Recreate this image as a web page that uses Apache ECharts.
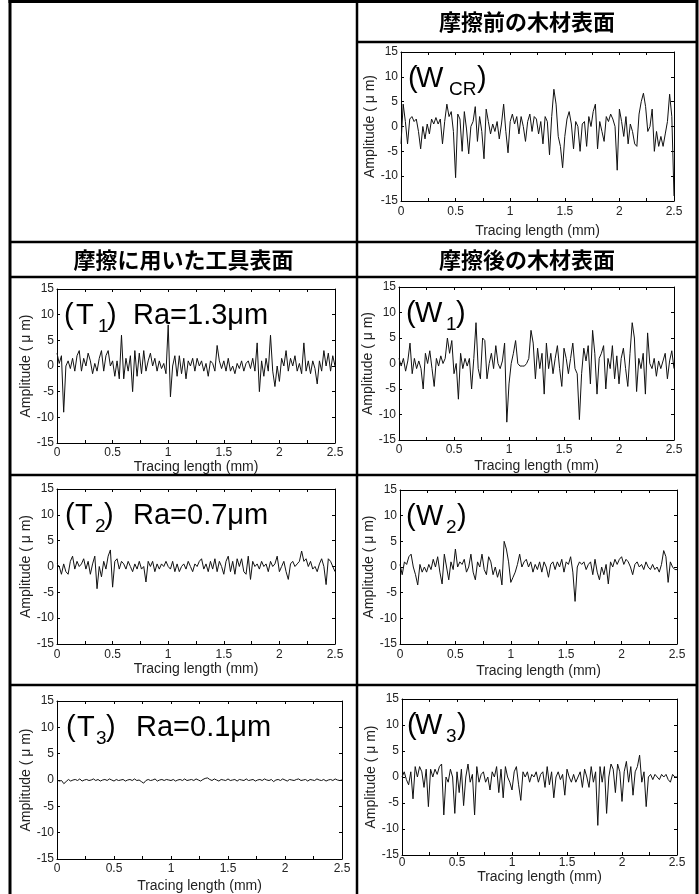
<!DOCTYPE html>
<html><head><meta charset="utf-8">
<script src="https://cdn.jsdelivr.net/npm/echarts@6/dist/echarts.min.js"></script>
<style>html,body{margin:0;padding:0;background:#fff}#c{width:699px;height:894px}</style>
</head><body><div id="c"></div>
<script>
// ---- data ----
const xTickLabels = ['0','0.5','1','1.5','2','2.5'];
const yMin = -15, yMax = 15, yStep = 5;
const xMin = 0, xMax = 2.5;
const headers = ['摩擦前の木材表面','摩擦に用いた工具表面','摩擦後の木材表面'];
const xName = 'Tracing length (mm)';
const yName = 'Amplitude ( μ m)';

const W_CR = [-3.5,4.5,1,-3.5,1.5,2,1,1.5,-1,-4.5,
0,-2.5,0.5,-1.5,1.5,0.5,1.8,0.5,1.5,-3.5,
1,4.5,2,3,-1,-10.3,2.5,1.5,-5,3,
-0.5,-5.5,0,1,4,-3,2,-1,-6.5,3.5,
1,-1.5,0.5,-1,1,-2.5,0.5,4.5,-1,-5.3,
1,2.5,0.5,2,-1.5,2,0,-3,1,2.5,
-1,2,1.5,-1.5,1,-3.5,2,1,-5.7,2,
7.5,4.5,-2,-4,-8.3,-2,1.5,3,0.5,-4.5,
1,0,-5,0.5,1,-4,2,0,3,4.5,
-4.5,1,-1,-3,2,1,2.5,1.5,0,-8.8,
3.5,1,-2,2,-3.5,0.5,-1,-3.5,-4,2.5,
5,6.7,4,-1,0,3.5,-5,-1,-4,-2,
-4,-1.5,1,6.5,2,-14];

const T1 = [2.5,0.5,2,-9,0,1,-0.5,1.5,-1,2,
3,-1,1.5,0,2.5,1,-1.5,0.5,-1,1.5,
3,-1,2,3,0,1,-2,1,-2.5,6,
-2.5,1.5,-1,2,-5,3,-2,2.5,-1.5,3,
-1,1,2.5,0,1.5,-1,1,-0.5,0.5,-1.5,
8,-6,0,2,-2,2,-1.5,1.5,-2.5,1,
0,1.5,-1,1.5,0,1,-1,0.5,-2,1,
0.5,-1,4,1,-0.5,1,-1,1.5,-1,0,
-1.5,0.5,-0.5,1,-1,0.5,1,-0.5,1.5,-1,
4.5,-5,1,-2,1.5,-1,6,-1,-4,0,
-3,1.5,0,3,-1,1.5,0,2,-1,0.5,
-1.5,4.5,-1,1,-1.5,1,-0.5,-3.5,1,-1,
3,0,2.5,-1,2,0];

const W1 = [1,-0.5,1,-1.5,0.5,4,-2,1,-1,0.5,
-1,-5,2,0,2.5,-1,-4.5,1,-0.5,1.5,
0,1,5,2,4.5,-2,0,-7,2,-1,
1,-0.5,1,-5,1,8,-1,-3,5,4.5,
-3,0,2,-1,3.5,0,-1,0.5,4,-11.5,
-4,0,2,4.5,0,-0.5,-0.5,-0.5,0,1,
6.5,4,-3,3,-1,2,-6,4,-1,2,
-2,1,3.5,-1,-4.5,3,1,-2,1,4,
-1,-2,-11,-2,3,0.5,3.5,-4,6.5,2,
-6,1,2,3.5,-5,1,-1,3.5,-3,1.5,
-4,1,3,-1,-4.5,2,8,5,-5.5,1,
-1,2,-6,6,0,-1,1,-2.5,0.5,-1,
0.5,2,-3,0.5,2.5,-1];

const T2 = [0.5,0,-1.5,0.5,-1,-1.5,1,2,-0.5,1,
0,0.5,1.5,-0.5,1,-1.5,0.5,2,-4.3,0,
-2,1,-0.5,2,3.2,-4,1,1.5,-0.5,1,
0.5,-0.5,1,0,-1,0.5,-0.5,1,-0.5,0,
-3,1,0,1,-1,0.5,-0.5,0.5,0,1,
0,-0.5,1,-1,0.5,-1,0,0.5,-0.5,1,
0,-1,0.5,0,1,1.5,-0.5,0.5,-1,1,
-0.5,1.5,-1,1,0,-1.5,1,2,-1,1,
-1.5,1.5,0,1.5,-1,-1.5,2,-2.5,1,0,
0.5,-0.5,1,0,0.5,-1,1,0,0.5,2,
-1,0,1,-1,-2.5,0.5,1,0,0.5,1,
3,1,1.5,0,1,-0.5,0,-1,0.5,1.5,
0,-3.5,1.5,1,0,-1];

const W2 = [0.5,-1.5,1,0.5,2,2.5,0,-1.5,-3.5,0.5,
-1,0,-1,0.5,-0.5,1.5,0,2,-1,-3.3,
2.5,0,-2.5,1,-0.5,3.5,0,1,0.5,1.5,
-1,0,2.5,-1,-2.5,1,0,2.5,-0.5,-1.5,
2,1,-1.5,0,-2,-0.5,-3.5,5,3.5,1,
-3,-2,-1,0.5,2.5,0,1,1.5,0,1,
-1,0.5,-0.5,1,-1,1,0,-2,0.5,1,
-0.5,1,0,1.5,-1,1,0.5,2,-1,-6.7,
0,1,0.5,1,-0.5,0.5,1,-1.5,1.5,-1,
-2.5,0,-1.5,0.5,-3.3,1,0,1.5,0.5,1.5,
2,0.5,1.5,1,0,-1.5,0.5,1,0,0.5,
-0.5,1,0,-0.5,0.5,-0.5,0,-1,0.5,3.2,
2,-3,1,0,-0.5,-0.5];

const T3 = [0,-0.2,-0.1,-0.7,-0.3,0.1,-0.2,0,0.1,-0.1,
0.2,-0.2,0,0.1,-0.1,0,0.2,-0.1,0.1,-0.2,
0,0.1,-0.1,0.2,0,-0.2,0.1,-0.1,0,0.1,
-0.2,0,0.1,-0.1,0.2,-0.1,0,-0.3,-0.6,-0.1,
0.1,-0.1,0,0.2,-0.2,0,0.1,-0.1,0.1,0,
-0.1,0.1,-0.2,0,0.1,-0.1,0.2,-0.1,0,0.1,
-0.1,0.2,0,-0.2,0.1,0.3,0.4,0.1,-0.1,0.2,
0,-0.2,0.1,0,-0.1,0.2,-0.1,0,0.1,-0.2,
0.1,0,-0.1,0.2,-0.1,0,0.1,-0.2,0,0.1,
-0.1,0.2,0,-0.1,0.1,-0.3,0,0.1,-0.1,0.2,
0,-0.2,0.1,0,-0.1,0.1,0.2,-0.1,0,0.1,
-0.2,0.1,0,-0.1,0.2,0,-0.1,0.1,-0.2,0,
0.1,-0.1,0.2,0,-0.1,0];

const W3 = [0,1,-0.5,-1.5,1,-4.2,2,0,2,1,
-2,1.5,-5.7,1.5,0,1.5,0.5,2,2.5,-7.3,
0,-1,1.5,0,-7,1,-3,1.5,-5.5,0,
2.5,-1,0.5,-7.3,2,-1,0.5,1,-1,0,
-2.5,1,0,2,-3,1.5,-4,2,0,-1,
-2.5,1,2,-1.5,-4.5,1,0,1,-1,0.5,
0,1,-1,0.5,1,-2,2,-1.5,1,-4,
0,1,-0.5,0.5,-3.5,1.5,0,-1,0.5,-1,
0,1,-2,1.5,0,-2,2,-1,1,-9.3,
2,-1,2,-7,0,2.5,1.5,-3,2.5,1,
-4.7,1,3,-1,2,-3.5,1,2,4.2,-1,
1,-5.7,0,0.5,-0.5,0.5,0,-0.5,0.5,0,
0.5,-0.5,-1,0.5,0,0];

const labelLetters = ['W','T','W','T','W','T','W'];
const labelSubs = ['CR','1','1','2','2','3','3'];
const raTexts = ['','Ra=1.3μm','','Ra=0.7μm','','Ra=0.1μm',''];

// ---- layout (positions / styles only) ----
const series7 = [W_CR, T1, W1, T2, W2, T3, W3];
const layout = [
  {l:401,t:52,r:674,b:201,gap:23,lm:5,ax:[7,15,48,76]},
  {l:57,t:289,r:335,b:443,gap:17,lm:4,ax:[7,19,41,50,76]},
  {l:399,t:287,r:674,b:440,gap:19,lm:4,ax:[7,16,47,57]},
  {l:57,t:489,r:335,b:644,gap:18,lm:5,ax:[8,18,38,47,76]},
  {l:400,t:490,r:677,b:644,gap:20,lm:5,ax:[6,16,46,57]},
  {l:57,t:701,r:342,b:860,gap:20,lm:4,ax:[9,20,39,49,79]},
  {l:402,t:699,r:677,b:855,gap:10,lm:2,ax:[5,13,44,55]}
];

const FONT = 'Liberation Sans, Arial, sans-serif';
const AFONT = 'Liberation Sans, Arial, sans-serif';
const axisCol = '#000', txtCol = '#222';

const grids = [], xAxes = [], yAxes = [], series = [], gfx = [];
layout.forEach((p, i) => {
  grids.push({left:p.l, top:p.t, width:p.r-p.l, height:p.b-p.t, containLabel:false});
  const tick = {show:true, inside:true, length:3, lineStyle:{color:axisCol, width:1}};
  const line = {show:true, onZero:false, lineStyle:{color:axisCol, width:1}};
  xAxes.push({gridIndex:i, type:'value', min:xMin, max:xMax, interval:0.25, position:'bottom',
    axisLine:line, axisTick:tick, splitLine:{show:false},
    axisLabel:{show:true, margin:p.lm, color:txtCol, fontFamily:FONT, fontSize:12,
      formatter:v => { const k = v*2; return Math.abs(k-Math.round(k))<1e-6 ? xTickLabels[Math.round(k)] : ''; }},
    name:xName, nameLocation:'middle', nameGap:p.gap,
    nameTextStyle:{color:txtCol, fontFamily:FONT, fontSize:14}});
  xAxes.push({gridIndex:i, type:'value', min:xMin, max:xMax, interval:0.25, position:'top',
    axisLine:line, axisTick:tick, axisLabel:{show:false}, splitLine:{show:false}});
  yAxes.push({gridIndex:i, type:'value', min:yMin, max:yMax, interval:yStep, position:'left',
    axisLine:line, axisTick:tick, splitLine:{show:false},
    axisLabel:{margin:3, color:txtCol, fontFamily:FONT, fontSize:12},
    name:yName, nameLocation:'middle', nameGap:22,
    nameTextStyle:{color:txtCol, fontFamily:FONT, fontSize:14}});
  yAxes.push({gridIndex:i, type:'value', min:yMin, max:yMax, interval:yStep, position:'right',
    axisLine:line, axisTick:tick, axisLabel:{show:false}, splitLine:{show:false}});
  const arr = series7[i];
  series.push({type:'line', xAxisIndex:2*i, yAxisIndex:2*i, showSymbol:false, symbol:'none',
    lineStyle:{color:'#111', width:1}, clip:true, animation:false,
    data: arr.map((v, j) => [xMin + j*(xMax-xMin)/(arr.length-1), v])});
  // panel annotation
  const cy = p.t + 27;
  const txt = (x, y, s, size) => ({type:'text', x:x, y:y, z:10,
    style:{text:s, fontSize:size, fontFamily:AFONT, fill:'#000', align:'left', verticalAlign:'middle'}});
  gfx.push(txt(p.l+p.ax[0], cy, '(', 29));
  gfx.push(txt(p.l+p.ax[1], cy, labelLetters[i], 29));
  gfx.push(txt(p.l+p.ax[2], cy+11, labelSubs[i], 19));
  gfx.push(txt(p.l+p.ax[3], cy, ')', 29));
  if (raTexts[i]) gfx.push(txt(p.l+p.ax[4], cy, raTexts[i], 29));
});

// table frame
const L = (x1,y1,x2,y2,w) => ({type:'line', z:5, shape:{x1,y1,x2,y2}, style:{stroke:'#000', lineWidth:w}});
gfx.push(L(10,0,10,894,3), L(8.5,1.5,698,1.5,3), L(697,0,697,894,3), L(357,0,357,894,2.5),
  L(357,42,697,42,2.5), L(10,242,697,242,2.5), L(10,277,697,277,2.5),
  L(10,475,697,475,2.5), L(10,685,697,685,2.5));
const head = (x, y, s) => ({type:'text', x:x, y:y, z:10,
  style:{text:s, fontSize:22, fontWeight:'bold', fontFamily:'Noto Sans CJK JP', fill:'#000', align:'center', verticalAlign:'middle'}});
gfx.push(head(527, 22, headers[0]), head(183.5, 260, headers[1]), head(527, 260, headers[2]));

const chart = echarts.init(document.getElementById('c'), null, {renderer:'canvas'});
chart.setOption({animation:false, backgroundColor:'#fff', grid:grids, xAxis:xAxes, yAxis:yAxes,
  series:series, graphic:{elements:gfx}});
</script></body></html>
